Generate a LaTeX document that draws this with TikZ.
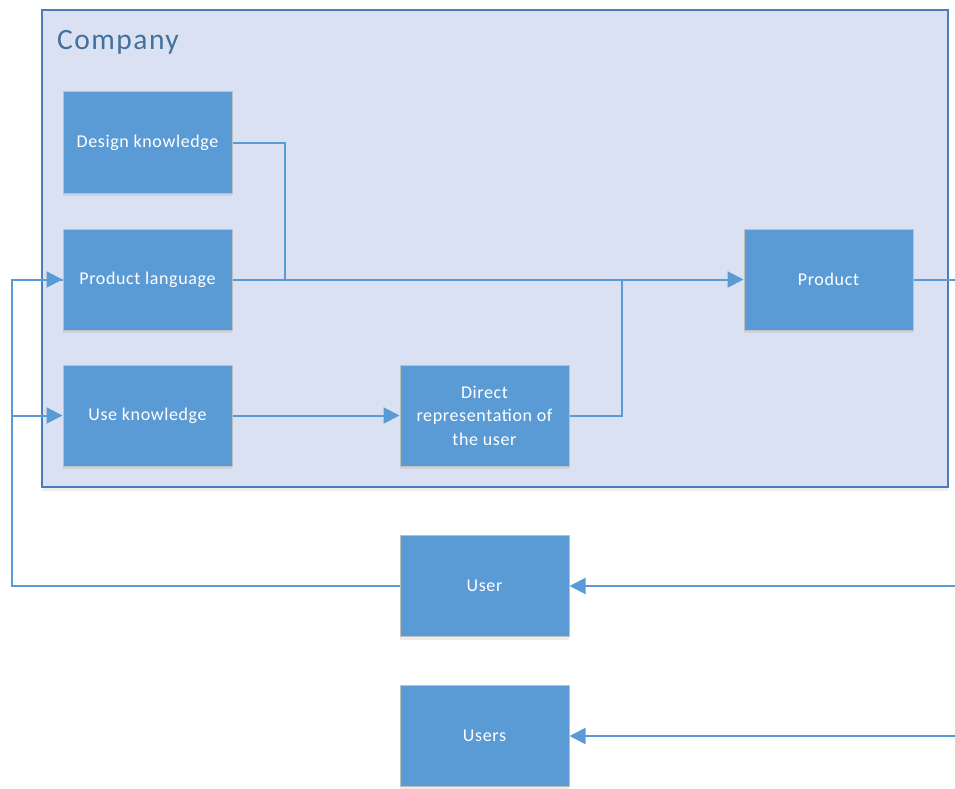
\documentclass[tikz,border=0pt]{standalone}
\usepackage{fontspec}
\setmainfont{Carlito}
\newfontfamily\boxfont[LetterSpace=3.5]{Carlito}
\newfontfamily\titlefont[LetterSpace=5]{Carlito}
\usetikzlibrary{arrows.meta,shadows}

\definecolor{boxfill}{HTML}{5B9BD5}
\definecolor{boxedge}{HTML}{BFBFBF}
\definecolor{groupfill}{HTML}{DAE1F2}
\definecolor{groupedge}{HTML}{4A7EBB}
\definecolor{titleblue}{HTML}{41719C}
\definecolor{linkblue}{HTML}{5B9BD5}

\tikzset{
  stepbox/.style={draw=boxedge, fill=boxfill, line width=1pt,
    minimum width=169pt, minimum height=101pt, inner sep=2pt,
    text=white, font=\boxfont\fontsize{18}{23.5}\selectfont, align=center,
    drop shadow={shadow xshift=0pt, shadow yshift=-3pt, opacity=0.12, fill=black!60}},
  link/.style={draw=linkblue, line width=2pt},
  flow/.style={link, -{Triangle[length=16pt,width=16pt]}},
}

\begin{document}
\begin{tikzpicture}[x=1pt, y=-1pt]
  \useasboundingbox (0,0) rectangle (955,789);

  % company boundary
  \node[draw=groupedge, fill=groupfill, line width=1.4pt, minimum width=906pt,
        minimum height=477pt, inner sep=0pt,
        drop shadow={shadow xshift=0pt, shadow yshift=-4pt, opacity=0.10, fill=black!60}]
        (company) at (495,248.5) {};
  \node[anchor=west, text=titleblue, font=\titlefont\fontsize{29.5}{34}\selectfont, inner sep=0pt]
        (ctitle) at (57,42) {Company};

  % boxes
  \node[stepbox] (dk)   at (147.5,142.5) {Design knowledge};
  \node[stepbox] (pl)   at (147.5,279.5) {Product language};
  \node[stepbox] (uk)   at (147.5,415.5) {Use knowledge};
  \node[stepbox] (dr)   at (484.5,415.5) {Direct\\representation of\\the user};
  \node[stepbox] (prod) at (828.5,279.5) {Product};
  \node[stepbox] (user) at (484.5,586)   {User};
  \node[stepbox] (users) at (484.5,736)  {Users};

  % junction and edge points
  \coordinate (j1) at (285,279.5);
  \coordinate (j2) at (622,279.5);
  \coordinate (loop) at (12,586);
  \coordinate (outP) at (956,279.5);
  \coordinate (inU) at (956,586);
  \coordinate (inUs) at (956,736);

  % connectors inside the company
  \draw[link] (dk.east) -| (j1);
  \draw[link] (dr.east) -| (j2);
  \draw[flow] (pl.east) -- (prod.west);
  \draw[flow] (uk.east) -- (dr.west);
  \draw[link] (prod.east) -- (outP);

  % feedback from the user
  \draw[link] (user.west) -- (loop) |- (pl.west);
  \draw[flow] (loop |- uk.west) -- (uk.west);
  \draw[flow] (loop |- pl.west) -- (pl.west);

  % incoming from the right
  \draw[flow] (inU) -- (user.east);
  \draw[flow] (inUs) -- (users.east);
\end{tikzpicture}
\end{document}
